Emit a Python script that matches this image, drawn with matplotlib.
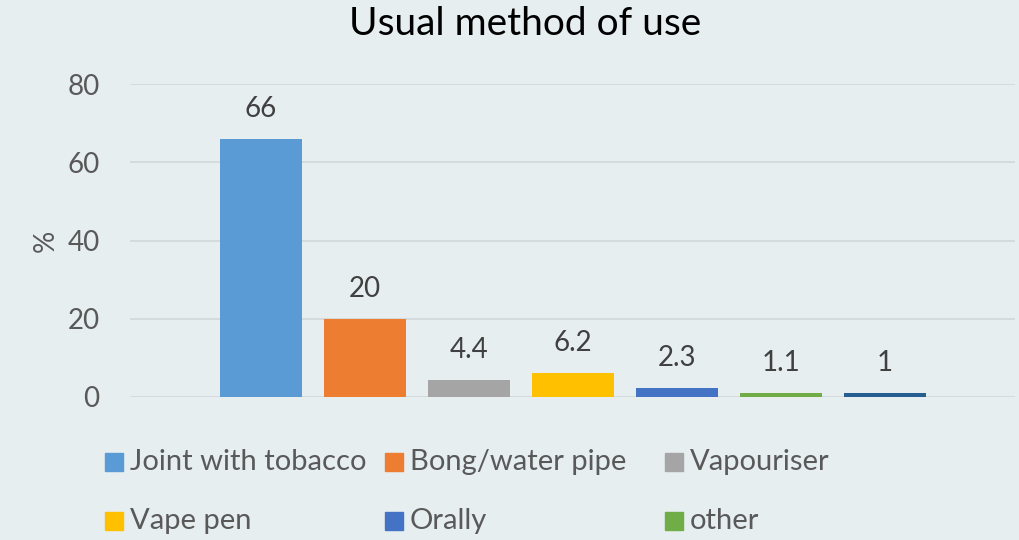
import matplotlib.pyplot as plt
from matplotlib.patches import Rectangle

# data
methods = ['Joint with tobacco', 'Bong/water pipe', 'Vapouriser', 'Vape pen', 'Orally', 'other', '']
values = [66, 20, 4.4, 6.2, 2.3, 1.1, 1]
labels = ['66', '20', '4.4', '6.2', '2.3', '1.1', '1']
colors = ['#5B9BD5', '#ED7D31', '#A5A5A5', '#FFC000', '#4472C4', '#70AD47', '#255E91']

bg = '#E6EEF0'
txt = '#595959'
plt.rcParams['font.family'] = ['Lato', 'DejaVu Sans']

W, H = 1020, 540
fig = plt.figure(figsize=(10.2, 5.4), dpi=100, facecolor=bg)
ax = fig.add_axes([0.1275, 0.265, 0.8675, 0.579], facecolor=bg)

x = range(len(values))
ax.bar(x, values, width=0.79, color=colors, zorder=3)
for i, v in enumerate(values):
    ax.annotate(labels[i], (i, v), xytext=(0, 12), textcoords='offset points',
                ha='center', va='bottom', fontsize=20, color='#404040')

ax.set_xlim(-1.26, 7.25)
ax.set_ylim(0, 80)
ax.set_yticks([0, 20, 40, 60, 80])
ax.set_xticks([])
ax.grid(axis='y', color='#D4D8DA', linewidth=1.3, zorder=0)
for s in ax.spines.values():
    s.set_visible(False)
ax.tick_params(axis='y', length=0, labelsize=20, labelcolor=txt, pad=22)
ax.set_ylabel('%', fontsize=20, color=txt, labelpad=6)

fig.text(0.515, 0.955, 'Usual method of use', ha='center', va='center', fontsize=28, color='black')

# legend, row by row like the original
for i in range(6):
    col, row = i % 3, i // 3
    px = 105 + col * 280
    py = 462 + row * 59
    fig.patches.append(Rectangle((px / W, 1 - (py + 9) / H), 18 / W, 18 / H,
                                 transform=fig.transFigure, color=colors[i]))
    fig.text((px + 25) / W, 1 - py / H, methods[i], ha='left', va='center',
             fontsize=21, color=txt)

fig.savefig('out.png', dpi=100, facecolor=bg)
